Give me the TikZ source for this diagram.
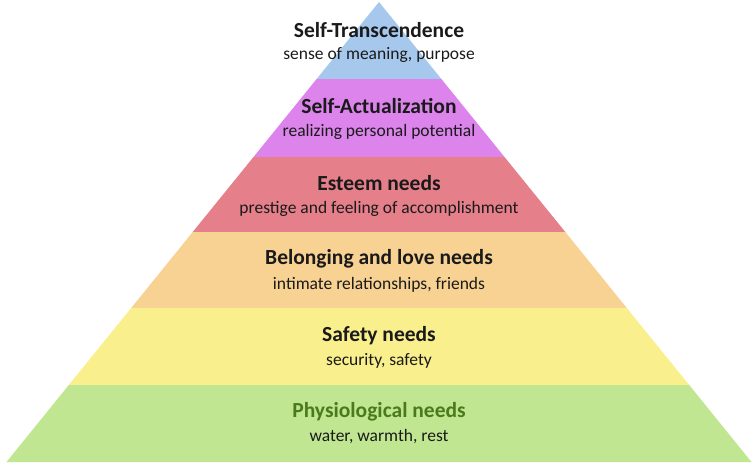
\documentclass[tikz,border=0pt]{standalone}
\usepackage{fontspec}
\setmainfont{Carlito}
\definecolor{capaAzul}{HTML}{A6C8EC}
\definecolor{capaLila}{HTML}{DC84EC}
\definecolor{capaRoja}{HTML}{E57F8A}
\definecolor{capaNaranja}{HTML}{F8D293}
\definecolor{capaAmarilla}{HTML}{F9EF8C}
\definecolor{capaVerde}{HTML}{C1E691}
\definecolor{verdeTexto}{HTML}{4A7A1C}
\definecolor{tinta}{HTML}{1A1A1A}
\tikzset{
  titulo/.style={font=\fontsize{21.5}{24}\selectfont\bfseries, text=tinta, inner sep=0pt},
  detalle/.style={font=\fontsize{17.5}{20}\selectfont, text=tinta, inner sep=0pt}
}
\begin{document}
\begin{tikzpicture}[x=1pt, y=-1pt]
    \useasboundingbox (0,0) rectangle (754,464);

    % --- 1. Self-Transcendence ---
    \fill[capaAzul] (379,2) -- (441.4,79) -- (316.6,79) -- cycle;
    \node[titulo] (trascend) at (379,30) {Self-Transcendence};
    \node[detalle] (trascendSub) at (379,55) {sense of meaning, purpose};

    % --- 2. Self-Actualization ---
    \fill[capaLila] (316.6,79) -- (441.4,79) -- (504.5,157) -- (253.5,157) -- cycle;
    \node[titulo] (actual) at (379,106) {Self-Actualization};
    \node[detalle] (actualSub) at (379,132) {realizing personal potential};

    % --- 3. Esteem ---
    \fill[capaRoja] (253.5,157) -- (504.5,157) -- (565.3,232) -- (192.7,232) -- cycle;
    \node[titulo] (estima) at (379,183) {Esteem needs};
    \node[detalle] (estimaSub) at (379,209) {prestige and feeling of accomplishment};

    % --- 4. Belonging ---
    \fill[capaNaranja] (192.7,232) -- (565.3,232) -- (626.8,308) -- (131.2,308) -- cycle;
    \node[titulo] (pertenencia) at (379,259) {Belonging and love needs};
    \node[detalle] (pertenenciaSub) at (379,285) {intimate relationships, friends};

    % --- 5. Safety ---
    \fill[capaAmarilla] (131.2,308) -- (626.8,308) -- (689.2,385) -- (68.8,385) -- cycle;
    \node[titulo] (seguridad) at (379,336) {Safety needs};
    \node[detalle] (seguridadSub) at (379,361) {security, safety};

    % --- 6. Physiological ---
    \fill[capaVerde] (68.8,385) -- (689.2,385) -- (751.5,462) -- (6.5,462) -- cycle;
    \node[titulo, text=verdeTexto] (fisio) at (379,412) {Physiological needs};
    \node[detalle] (fisioSub) at (379,437) {water, warmth, rest};
\end{tikzpicture}
\end{document}
